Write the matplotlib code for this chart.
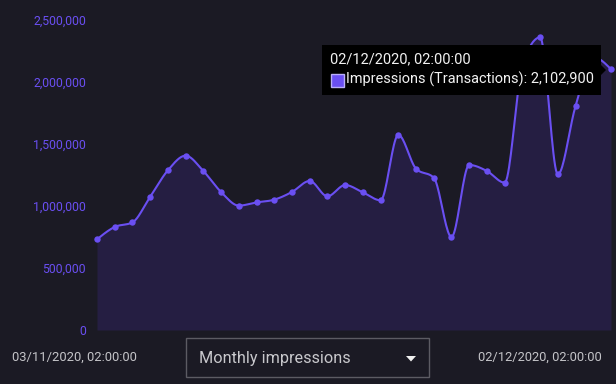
import matplotlib
matplotlib.use("Agg")
import matplotlib.pyplot as plt
from matplotlib.patches import Rectangle, Polygon
import numpy as np

plt.rcParams['font.family'] = ['Roboto', 'DejaVu Sans']

# daily impressions, 03/11/2020 .. 02/12/2020
days = list(range(30))
impressions = [731000, 831000, 868000, 1075000, 1288000, 1406000, 1282000, 1113000,
               1003000, 1029000, 1051000, 1113000, 1202000, 1078000, 1169000, 1110000,
               1046000, 1573000, 1301000, 1228000, 750000, 1331000, 1282000, 1188000,
               2130000, 2360000, 1255000, 1806000, 2200000, 2102900]
yticks = [0, 500000, 1000000, 1500000, 2000000, 2500000]
start_label = "03/11/2020, 02:00:00"
end_label = "02/12/2020, 02:00:00"
tooltip_title = "02/12/2020, 02:00:00"
tooltip_value = "Impressions (Transactions): 2,102,900"
dropdown_label = "Monthly impressions"

BG = "#1b1a24"
FILL = "#251e42"
LINE = "#6a4ff2"
W, H = 616, 384


def monotone(x, y, n=20):
    # d3 curveMonotoneX style interpolation, only for drawing the line
    x = np.asarray(x, float)
    y = np.asarray(y, float)
    h = np.diff(x)
    s = np.diff(y) / h
    m = np.zeros_like(y)
    for i in range(1, len(y) - 1):
        p = (s[i - 1] * h[i] + s[i] * h[i - 1]) / (h[i - 1] + h[i])
        m[i] = (np.sign(s[i - 1]) + np.sign(s[i])) * min(abs(s[i - 1]), abs(s[i]), 0.5 * abs(p))
    m[0] = (3 * s[0] - m[1]) / 2
    m[-1] = (3 * s[-1] - m[-2]) / 2
    xs, ys = [], []
    for i in range(len(h)):
        t = np.linspace(0, 1, n, endpoint=False)
        h00 = 2 * t**3 - 3 * t**2 + 1
        h10 = t**3 - 2 * t**2 + t
        h01 = -2 * t**3 + 3 * t**2
        h11 = t**3 - t**2
        xs.append(x[i] + t * h[i])
        ys.append(h00 * y[i] + h10 * h[i] * m[i] + h01 * y[i + 1] + h11 * h[i] * m[i + 1])
    xs.append([x[-1]])
    ys.append([y[-1]])
    return np.concatenate(xs), np.concatenate(ys)


def fx(x):
    return x / W


def fy(y):
    return 1 - y / H


fig = plt.figure(figsize=(6.16, 3.84), dpi=100, facecolor=BG)
renderer = fig.canvas.get_renderer()


def fit_text(x, y, s, width_px, **kw):
    # size the text so it spans the same pixel width as in the reference
    t = fig.text(fx(x), fy(y), s, fontsize=10, va="center", **kw)
    for _ in range(3):
        w = t.get_window_extent(renderer).width
        t.set_fontsize(t.get_fontsize() * width_px / w)
    return t


ax = fig.add_axes([fx(97), fy(330), (611 - 97) / W, (330 - 20) / H])
ax.set_facecolor(BG)

xs, ys = monotone(days, impressions)
ax.fill_between(xs, 0, ys, color=FILL, lw=0)
ax.plot(xs, ys, color=LINE, lw=1.5, solid_capstyle="round", clip_on=False)
ax.plot(days, impressions, "o", color=LINE, ms=4.6, mew=0, clip_on=False)

ax.set_xlim(days[0], days[-1])
ax.set_ylim(0, 2500000)
ax.set_yticks(yticks)
ax.set_yticklabels([f"{v:,}" for v in yticks])
ax.set_xticks([])
ax.tick_params(axis="y", length=0, pad=8, labelsize=8.8, labelcolor=LINE)
for sp in ax.spines.values():
    sp.set_visible(False)

# date labels under the chart
fit_text(12, 357, start_label, 125, color="#c4c4c8", ha="left")
fit_text(602, 357, end_label, 124, color="#c4c4c8", ha="right")

# dropdown
fig.add_artist(Rectangle((fx(186), fy(377)), (429 - 186) / W, (377 - 338) / H,
                         transform=fig.transFigure, fill=False, ec="#5c5b63", lw=1))
fit_text(199, 358, dropdown_label, 151, color="#c8c8cc", ha="left")
fig.add_artist(Polygon([(fx(406), fy(356)), (fx(416), fy(356)), (fx(411), fy(361.5))],
                       closed=True, transform=fig.transFigure, color="#f0f0f0", lw=0))

# tooltip
fig.add_artist(Rectangle((fx(322), fy(95)), (601 - 322) / W, (95 - 45) / H,
                         transform=fig.transFigure, color="#000000", lw=0, zorder=5))
fig.add_artist(Polygon([(fx(601), fy(65)), (fx(606), fy(70)), (fx(601), fy(75))],
                       closed=True, transform=fig.transFigure, color="#000000", lw=0, zorder=5))
fit_text(330, 59, tooltip_title, 139, color="#f2f2f2", ha="left", zorder=6)
fig.add_artist(Rectangle((fx(331), fy(87)), 13 / W, 13 / H, transform=fig.transFigure,
                         fc=LINE, ec="#b9aef8", lw=1, zorder=6))
fit_text(346, 79.5, tooltip_value, 247, color="#f2f2f2", ha="left", zorder=6)

fig.savefig("out.png", dpi=100, facecolor=BG)
